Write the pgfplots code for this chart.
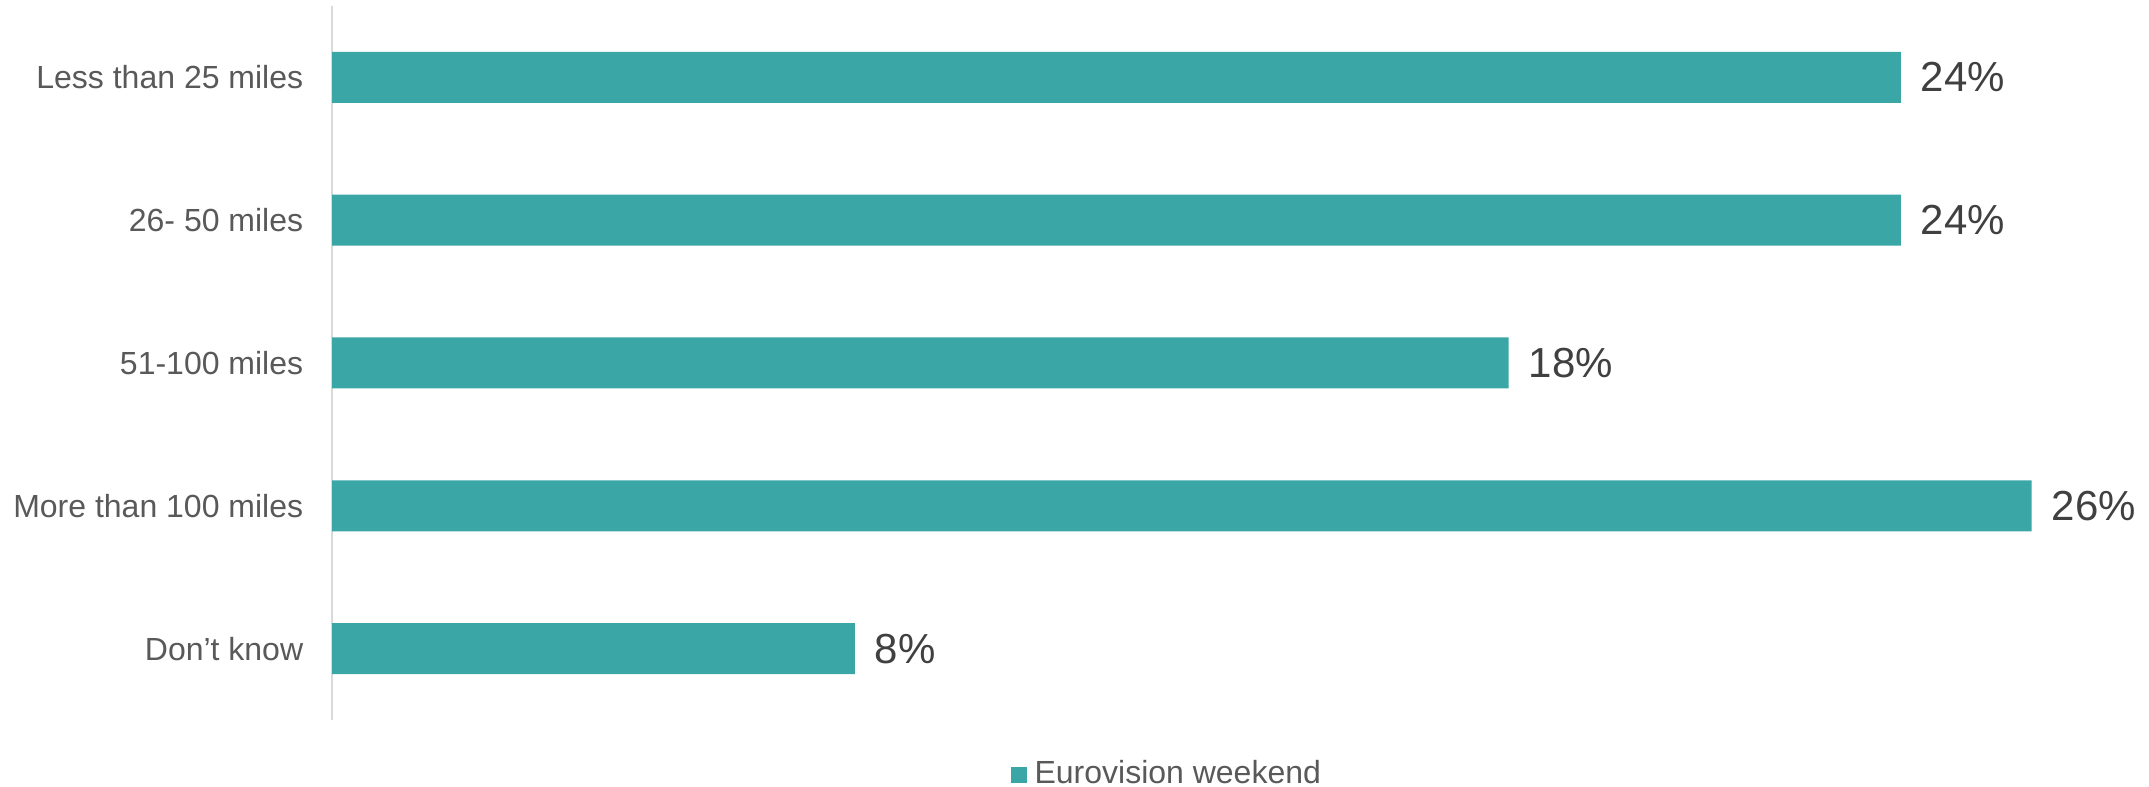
\documentclass[border=0pt]{standalone}
\usepackage{fontspec}
\setmainfont{Liberation Sans}
\usepackage{pgfplots}
\pgfplotsset{compat=1.18}
\definecolor{barcol}{HTML}{3AA6A6}
\definecolor{tickcol}{HTML}{595959}
\definecolor{labcol}{HTML}{404040}
\definecolor{axcol}{HTML}{D9D9D9}
\begin{document}
\begin{tikzpicture}[x=1pt,y=1pt]
\path[use as bounding box] (0,0) rectangle (537.25,196.75);
\begin{axis}[
  at={(83pt,16.75pt)}, anchor=south west,
  scale only axis=true,
  width=441.25pt, height=178.5pt,
  xbar, bar width=12.75pt,
  xmin=0, xmax=27,
  ymin=-0.5, ymax=4.5, y dir=reverse,
  ytick={0,1,2,3,4},
  yticklabels={Less than 25 miles,26- 50 miles,51-100 miles,More than 100 miles,Don’t know},
  axis x line=none,
  axis y line*=left,
  y axis line style={draw=axcol, line width=0.5pt},
  major tick length=0pt,
  /pgf/number format/assume math mode=true,
  yticklabel style={anchor=east, inner sep=0pt, xshift=-7pt, text=tickcol, font=\fontsize{8}{9.6}\selectfont},
  nodes near coords={\pgfmathprintnumber{\pgfplotspointmeta}\%},
  nodes near coords style={anchor=west, inner sep=0pt, xshift=4.8pt, text=labcol, font=\fontsize{10.5}{12.6}\selectfont},
  legend style={at={(0.384,-0.0775)}, anchor=west, draw=none, fill=none, inner sep=0pt, font=\fontsize{8}{9.6}\selectfont, text=tickcol},
  legend cell align=left,
  legend image code/.code={\fill[barcol] (0pt,-2pt) rectangle (4pt,2pt);},
  legend style={/tikz/every even column/.style={column sep=0pt}},
]
\addplot[fill=barcol, draw=none] coordinates {(24,0) (24,1) (18,2) (26,3) (8,4)};
\addlegendentry{Eurovision weekend}
\end{axis}
\end{tikzpicture}
\end{document}
